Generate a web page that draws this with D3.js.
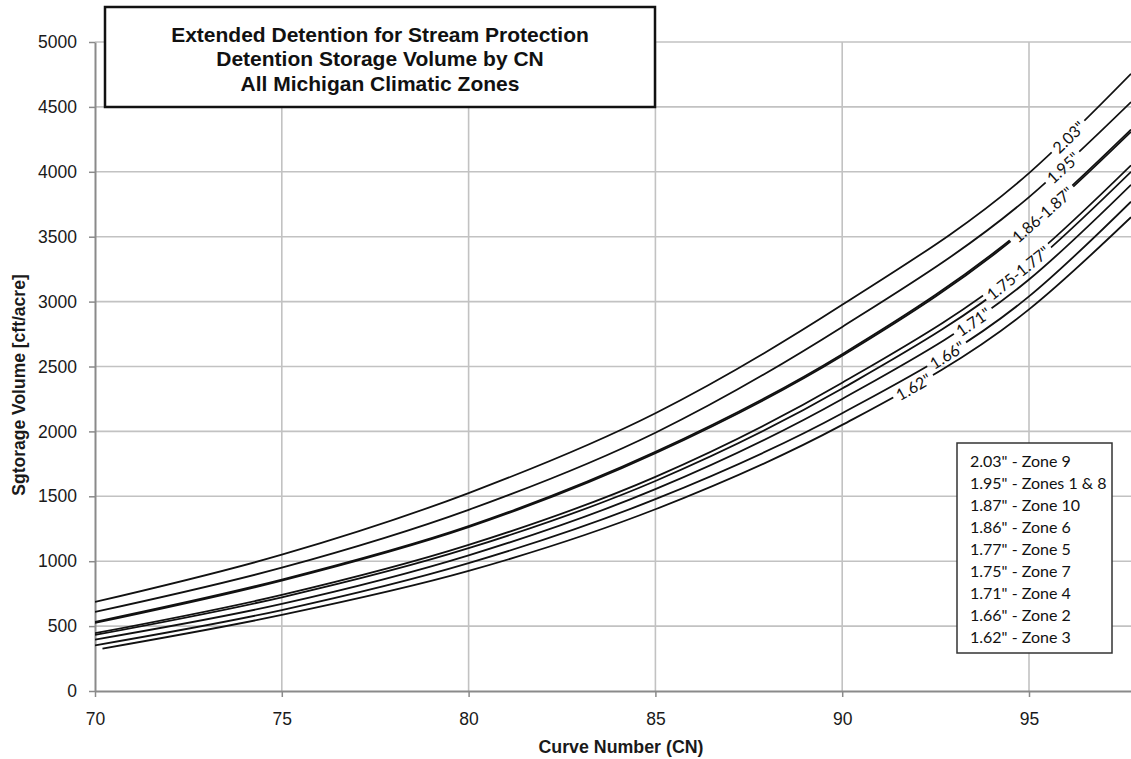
<!DOCTYPE html>
<html>
<head>
<meta charset="utf-8">
<script src="https://cdn.jsdelivr.net/npm/d3@7"></script>
<style>
  html, body { margin: 0; padding: 0; background: #fff; }
  svg { display: block; }
</style>
</head>
<body>
<svg id="chart" width="1131" height="759"></svg>
<script>
// Curve numbers at which each storage curve is sampled
const curveNumbers = [70, 75, 80, 85, 90, 95, 97.73];
const curveNumbers162 = [70.2, 75, 80, 85, 90, 95, 97.73];

// Detention storage volume [cft/acre] for each 1-yr 24-hr rainfall depth
const storage203 = [686, 1050, 1525, 2140, 2975, 3990, 4755];
const storage195 = [609, 950, 1396, 1990, 2805, 3805, 4537];
const storage187 = [532, 858, 1270, 1842, 2595, 3595, 4325];
const storage186 = [524, 850, 1262, 1832, 2583, 3580, 4308];
const storage177 = [445, 740, 1125, 1650, 2375, 3320, 4050];
const storage175 = [432, 722, 1100, 1618, 2330, 3270, 4000];
const storage171 = [396, 671, 1045, 1555, 2250, 3170, 3900];
const storage166 = [352, 624, 985, 1478, 2140, 3040, 3770];
const storage162 = [327, 586, 925, 1400, 2050, 2940, 3650];

const xTicks = [70, 75, 80, 85, 90, 95];
const yTicks = [0, 500, 1000, 1500, 2000, 2500, 3000, 3500, 4000, 4500, 5000];

const titleLines = [
  "Extended Detention for Stream Protection",
  "Detention Storage Volume by CN",
  "All Michigan Climatic Zones"
];

const legendLines = [
  '2.03" - Zone 9',
  '1.95" - Zones 1 & 8',
  '1.87" - Zone 10',
  '1.86" - Zone 6',
  '1.77" - Zone 5',
  '1.75" - Zone 7',
  '1.71" - Zone 4',
  '1.66" - Zone 2',
  '1.62" - Zone 3'
];

// In-line curve labels: text, the curve(s) it sits on, and the CN where it is placed
const curveLabels = [
  { text: '2.03"', on: ["d203"], cn: 96.05 },
  { text: '1.95"', on: ["d195"], cn: 95.9 },
  { text: '1.86-1.87"', on: ["d187", "d186"], cn: 95.35 },
  { text: '1.75-1.77"', on: ["d177", "d175"], cn: 94.7 },
  { text: '1.71"', on: ["d171"], cn: 93.5 },
  { text: '1.66"', on: ["d166"], cn: 92.8 },
  { text: '1.62"', on: ["d162"], cn: 91.9 }
];

const series = [
  { id: "d203", cn: curveNumbers, v: storage203 },
  { id: "d195", cn: curveNumbers, v: storage195 },
  { id: "d187", cn: curveNumbers, v: storage187 },
  { id: "d186", cn: curveNumbers, v: storage186 },
  { id: "d177", cn: curveNumbers, v: storage177 },
  { id: "d175", cn: curveNumbers, v: storage175 },
  { id: "d171", cn: curveNumbers, v: storage171 },
  { id: "d166", cn: curveNumbers, v: storage166 },
  { id: "d162", cn: curveNumbers162, v: storage162 }
].map(s => ({ id: s.id, pts: s.cn.map((c, i) => ({ cn: c, v: s.v[i] })) }));

const W = 1131, H = 759;
const plot = { left: 95, right: 1131, top: 42, bottom: 691 };

const svg = d3.select("#chart");
const x = d3.scaleLinear().domain([70, 97.73]).range([plot.left, plot.right]);
const y = d3.scaleLinear().domain([0, 5000]).range([plot.bottom, plot.top]);

const axisFont = "'Liberation Sans', Arial, sans-serif";
const calFont = "Lato, 'Open Sans', sans-serif";

// Gridlines
const grid = svg.append("g").attr("class", "grid");
grid.selectAll("line.h").data(yTicks.filter(d => d > 0)).join("line")
  .attr("class", "h")
  .attr("x1", plot.left).attr("x2", plot.right)
  .attr("y1", d => y(d)).attr("y2", d => y(d))
  .attr("stroke", "#c2c2c2").attr("stroke-width", 1.6);
grid.selectAll("line.v").data(xTicks.filter(d => d > 70)).join("line")
  .attr("class", "v")
  .attr("x1", d => x(d)).attr("x2", d => x(d))
  .attr("y1", plot.top).attr("y2", plot.bottom)
  .attr("stroke", "#c2c2c2").attr("stroke-width", 1.6);

// Axes
const yAxis = svg.append("g")
  .attr("transform", `translate(${plot.left},0)`)
  .call(d3.axisLeft(y).tickValues(yTicks).tickFormat(d3.format("d"))
    .tickSize(6).tickPadding(12).tickSizeOuter(0));
const xAxis = svg.append("g")
  .attr("transform", `translate(0,${plot.bottom})`)
  .call(d3.axisBottom(x).tickValues(xTicks).tickFormat(d3.format("d"))
    .tickSize(6).tickPadding(16).tickSizeOuter(0));
[yAxis, xAxis].forEach(g => {
  g.select(".domain").attr("stroke", "#8a8a8a").attr("stroke-width", 2);
  g.selectAll(".tick line").attr("stroke", "#8a8a8a").attr("stroke-width", 1.5);
  g.selectAll(".tick text").attr("font-family", axisFont).attr("font-size", 17.5).attr("fill", "#1a1a1a");
});

// Axis titles
svg.append("text")
  .attr("transform", `translate(25,385) rotate(-90)`)
  .attr("text-anchor", "middle")
  .attr("font-family", axisFont).attr("font-weight", "bold").attr("font-size", 17.5)
  .attr("fill", "#1a1a1a")
  .text("Sgtorage Volume [cft/acre]");
svg.append("text")
  .attr("x", 621).attr("y", 753)
  .attr("text-anchor", "middle")
  .attr("font-family", axisFont).attr("font-weight", "bold").attr("font-size", 17.8)
  .attr("fill", "#1a1a1a")
  .text("Curve Number (CN)");

// Clip curves to the plotting area
svg.append("defs").append("clipPath").attr("id", "plotClip")
  .append("rect").attr("x", plot.left).attr("y", 0)
  .attr("width", plot.right - plot.left).attr("height", plot.bottom);

const line = d3.line().x(d => x(d.cn)).y(d => y(d.v)).curve(d3.curveMonotoneX);
const curveG = svg.append("g").attr("clip-path", "url(#plotClip)");
const paths = {};
series.forEach(s => {
  paths[s.id] = curveG.append("path")
    .datum(s.pts)
    .attr("d", line)
    .attr("fill", "none")
    .attr("stroke", "#111")
    .attr("stroke-width", 1.8)
    .node();
});

// Find the point on a path at a given screen x
function pointAtX(node, px) {
  let lo = 0, hi = node.getTotalLength();
  for (let i = 0; i < 40; i++) {
    const mid = (lo + hi) / 2;
    if (node.getPointAtLength(mid).x < px) lo = mid; else hi = mid;
  }
  return node.getPointAtLength((lo + hi) / 2);
}

// Labels written along the curves, with the curve broken behind the text
const defs = svg.select("defs");
const gaps = {};
const labelG = svg.append("g");
curveLabels.forEach(lab => {
  const px = x(lab.cn);
  const pts = lab.on.map(id => pointAtX(paths[id], px));
  const cy = d3.mean(pts, p => p.y);
  const a = pointAtX(paths[lab.on[0]], px - 4), b = pointAtX(paths[lab.on[0]], px + 4);
  const ang = Math.atan2(b.y - a.y, b.x - a.x) * 180 / Math.PI;
  const t = labelG.append("text")
    .attr("transform", `translate(${px},${cy}) rotate(${ang})`)
    .attr("text-anchor", "middle")
    .attr("dominant-baseline", "central")
    .attr("font-family", calFont).attr("font-size", 16)
    .attr("fill", "#111")
    .text(lab.text);
  const tw = t.node().getComputedTextLength() + 8;
  lab.on.forEach(id => {
    (gaps[id] = gaps[id] || []).push({ px, cy, ang, tw });
  });
});
Object.keys(gaps).forEach(id => {
  const m = defs.append("mask").attr("id", "gap-" + id)
    .attr("maskUnits", "userSpaceOnUse")
    .attr("x", 0).attr("y", 0).attr("width", W).attr("height", H);
  m.append("rect").attr("x", 0).attr("y", 0).attr("width", W).attr("height", H).attr("fill", "#fff");
  gaps[id].forEach(g => {
    m.append("rect")
      .attr("x", -g.tw / 2).attr("y", -9).attr("width", g.tw).attr("height", 18)
      .attr("transform", `translate(${g.px},${g.cy}) rotate(${g.ang})`)
      .attr("fill", "#000");
  });
  d3.select(paths[id]).attr("mask", `url(#gap-${id})`);
});

// Title box
const title = svg.append("g");
title.append("rect")
  .attr("x", 105).attr("y", 7).attr("width", 550).attr("height", 100)
  .attr("fill", "#fff").attr("stroke", "#111").attr("stroke-width", 2.5);
title.selectAll("text").data(titleLines).join("text")
  .attr("x", 380).attr("y", (d, i) => 41.5 + i * 24.5)
  .attr("text-anchor", "middle")
  .attr("font-family", axisFont).attr("font-weight", "bold").attr("font-size", 21)
  .attr("fill", "#111")
  .text(d => d);

// Legend box
const legend = svg.append("g");
legend.append("rect")
  .attr("x", 957).attr("y", 443).attr("width", 155).attr("height", 210)
  .attr("fill", "#fff").attr("stroke", "#333").attr("stroke-width", 1.5);
legend.selectAll("text").data(legendLines).join("text")
  .attr("x", 970).attr("y", (d, i) => 467 + i * 22)
  .attr("font-family", calFont).attr("font-size", 16)
  .attr("fill", "#111")
  .text(d => d);
</script>
</body>
</html>
